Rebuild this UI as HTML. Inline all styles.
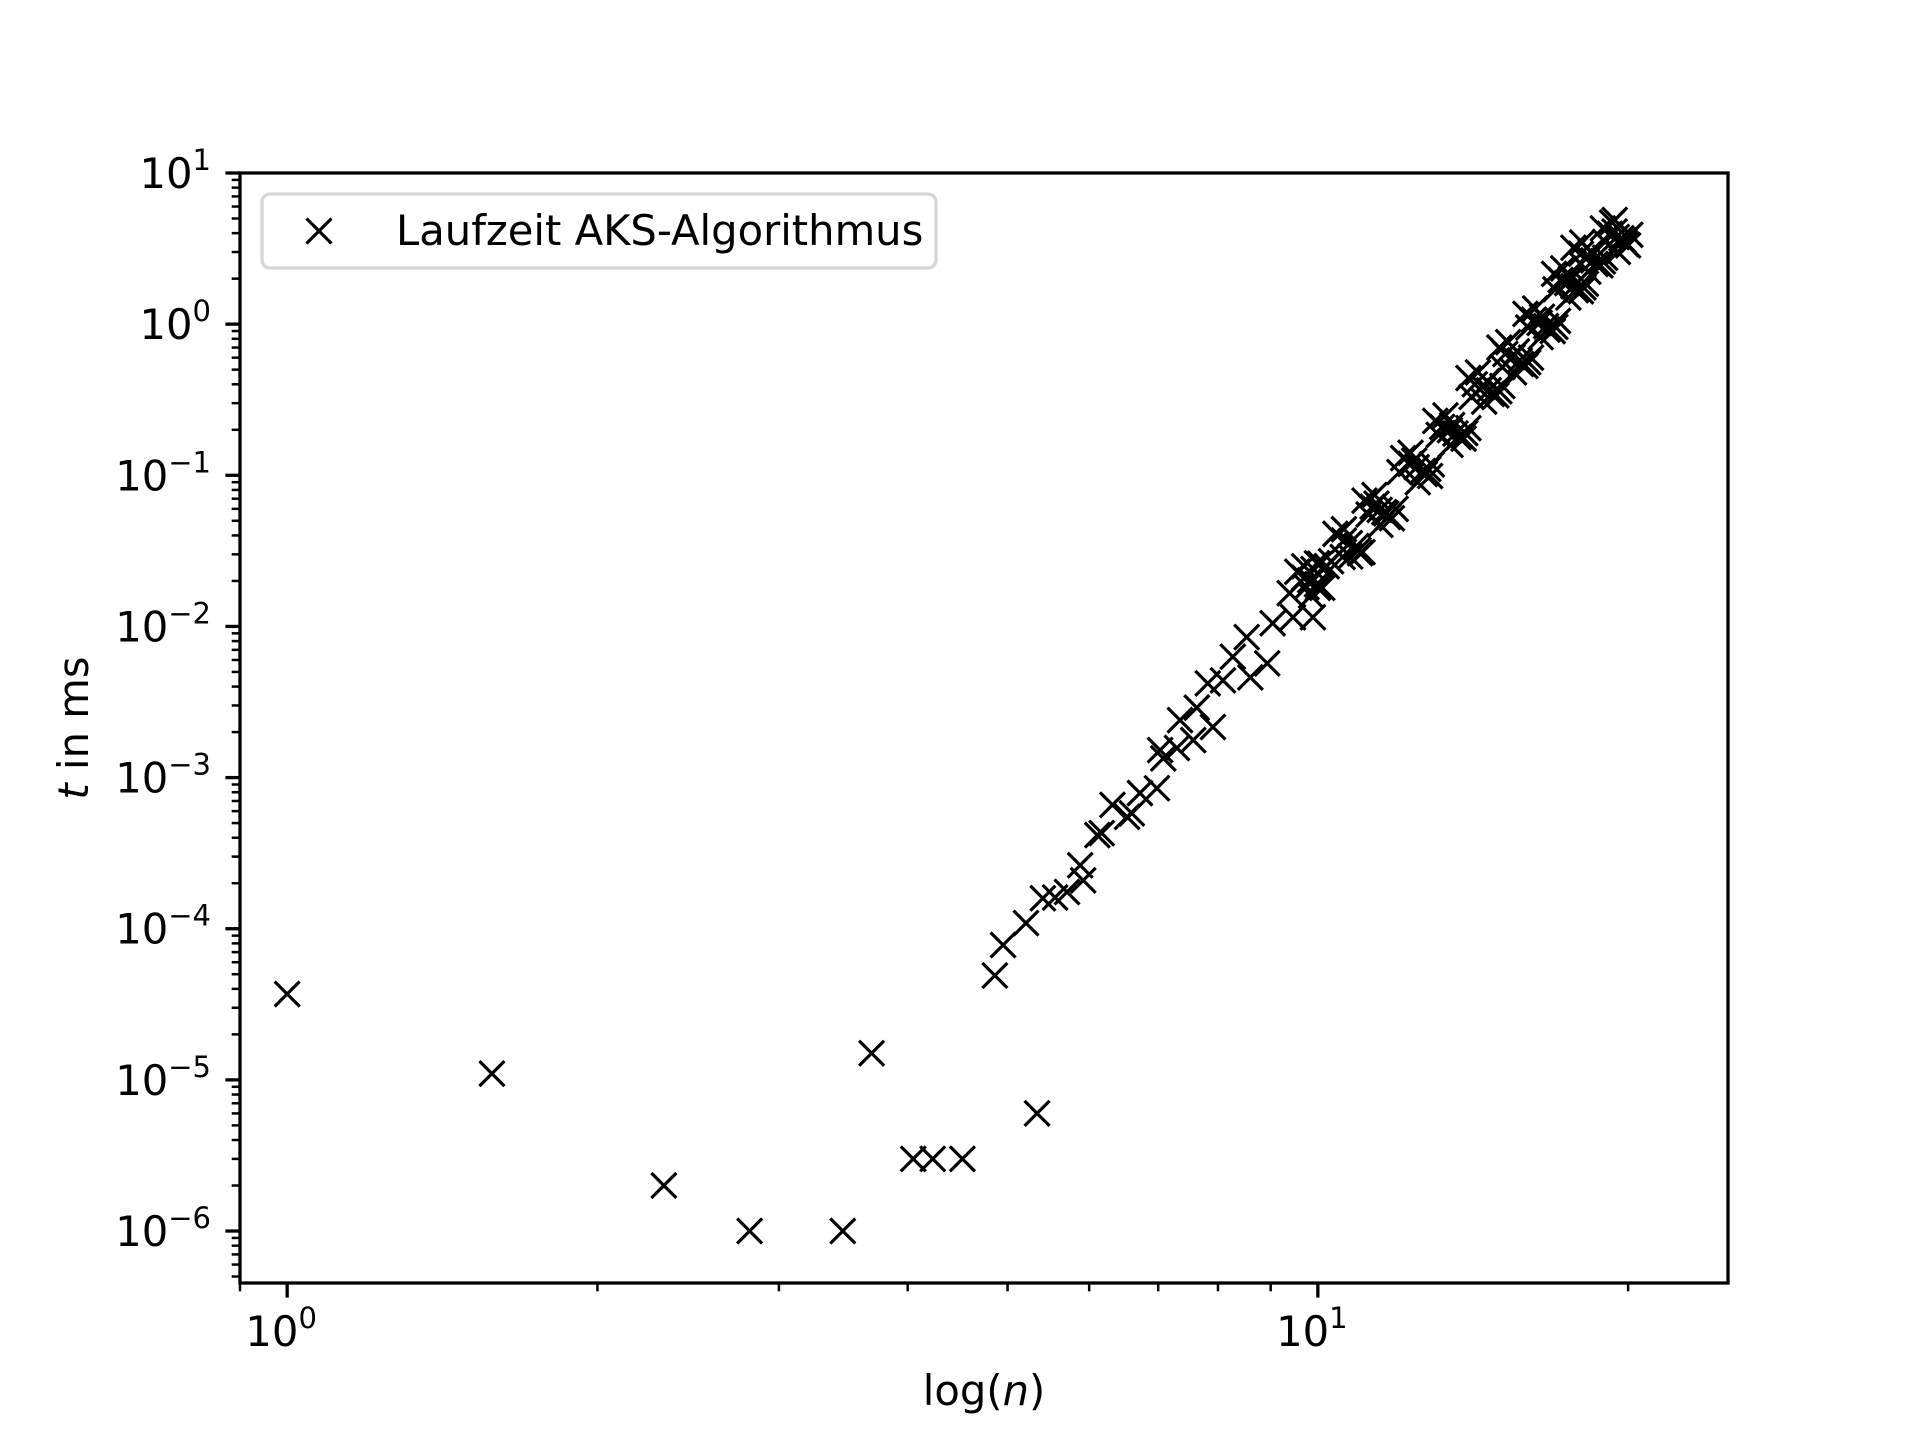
<!DOCTYPE html>
<html><head><meta charset="utf-8"><style>
html,body{margin:0;padding:0;background:#fff;}
svg{display:block;font-family:"DejaVu Sans","Liberation Sans",sans-serif;}
</style></head><body>
<svg id="chart" width="1920" height="1440" viewBox="0 0 1920 1440">
<rect x="0" y="0" width="1920" height="1440" fill="#fff"/>
<g id="marks"></g>
<g id="axes"></g>
</svg>
<script>
const smallN = [1.0, 1.58, 2.32, 2.81, 3.46, 3.69, 4.05, 4.23, 4.52, 5.34];
const smallT = [3.7e-5, 1.1e-5, 2e-6, 1e-6, 1e-6, 1.5e-5, 3e-6, 3e-6, 3e-6, 6e-6];
const midN = [4.86,4.95,5.21,5.41,5.56,5.71,5.88,5.92,6.11,6.17,6.32,6.53,6.60,6.72,6.98,7.03,7.08,7.30,7.57,7.35,7.63,7.91,7.82,8.09,8.27,8.60,8.93,8.53,9.04,9.46,9.89,9.39,9.75,9.98,10.57,10.99];
const midT = [4.9e-5,7.8e-5,1.09e-4,1.59e-4,1.61e-4,1.75e-4,2.63e-4,2.09e-4,4.16e-4,4.29e-4,6.6e-4,5.5e-4,5.8e-4,7.9e-4,8.5e-4,1.52e-3,1.34e-3,1.57e-3,1.77e-3,2.4e-3,2.9e-3,2.16e-3,4.2e-3,4.4e-3,6.3e-3,4.6e-3,5.7e-3,8.5e-3,1.05e-2,1.15e-2,1.15e-2,1.66e-2,1.82e-2,2.62e-2,2.88e-2,3.05e-2];
const bigN = [9.55,9.7,9.83,9.98,10.1,9.85,9.7,10.0,
 10.4,10.6,10.74,10.9,11.05,10.75,10.6,10.95,
 11.1,11.3,11.48,11.65,11.8,11.5,11.35,11.7,
 12.1,12.3,12.47,12.65,12.85,12.5,12.3,12.7,
 13.0,13.2,13.43,13.6,13.85,13.45,13.3,13.7,
 14.0,14.2,14.45,14.65,14.9,14.5,14.3,14.75,
 15.0,15.2,15.45,15.7,15.9,15.5,15.3,15.75,
 15.9,16.2,16.41,16.65,16.9,16.45,16.25,16.7,
 16.95,17.2,17.45,17.7,18.0,17.5,17.3,17.8,
 17.7,18.0,18.24,18.5,18.8,18.3,18.05,18.6,
 18.9,19.2,19.5,19.8,20.0,19.55,19.3,19.9,19.41];
const bigT = [2.3e-2,2.1e-2,2.02e-2,1.9e-2,1.8e-2,1.6e-2,2.5e-2,1.8e-2,
 4.1e-2,3.7e-2,3.56e-2,3.4e-2,3.1e-2,2.9e-2,4.4e-2,3.2e-2,
 6.8e-2,6.2e-2,5.9e-2,5.6e-2,5.2e-2,4.7e-2,7.4e-2,5.3e-2,
 0.13,0.119,0.113,0.107,0.099,0.09,0.141,0.102,
 0.229,0.209,0.199,0.189,0.175,0.159,0.249,0.179,
 0.44,0.40,0.384,0.365,0.338,0.307,0.48,0.345,
 0.70,0.635,0.605,0.575,0.53,0.48,0.76,0.545,
 1.17,1.07,1.02,0.97,0.9,0.82,1.27,0.92,
 2.15,1.96,1.87,1.78,1.65,1.5,2.34,1.68,
 3.2,2.92,2.78,2.64,2.45,2.22,3.47,2.5,
 4.3,3.96,3.77,3.58,3.32,3.0,4.7,3.4,4.89];
const extraN = [9.9,10.05,10.2,10.3,
 11.2,11.4,11.6,11.9,
 12.0,12.4,12.8,12.9,
 13.1,13.5,13.9,14.0,
 14.1,14.6,15.0,15.1,
 15.1,15.6,16.0,16.1,
 16.0,16.5,17.0,17.1,
 17.0,17.6,18.1,18.2,
 18.0,18.4,18.9,19.0,
 19.0,19.4,19.7,20.1];
const extraT = [2.4e-2,2.6e-2,2.5e-2,2.7e-2,
 5.5e-2,6.5e-2,5.7e-2,6.0e-2,
 0.105,0.125,0.11,0.118,
 0.185,0.215,0.19,0.205,
 0.33,0.42,0.36,0.39,
 0.52,0.66,0.56,0.60,
 0.95,1.12,0.96,1.05,
 1.7,2.0,1.75,1.85,
 2.5,3.0,2.6,2.75,
 3.5,4.1,3.7,3.9];
const yTickExp = [1,0,-1,-2,-3,-4,-5,-6];
const xTickExp = [0,1];

const NS="http://www.w3.org/2000/svg";
const L=240,R=1728,T=173,B=1283;
const xLo=0.9, xHi=25.0, yLo=4.53e-7, yHi=10;
function sx(v){return L+(Math.log10(v)-Math.log10(xLo))/(Math.log10(xHi)-Math.log10(xLo))*(R-L);}
function sy(v){return B-(Math.log10(v)-Math.log10(yLo))/(Math.log10(yHi)-Math.log10(yLo))*(B-T);}
function el(tag,attrs,parent){const e=document.createElementNS(NS,tag);for(const k in attrs)e.setAttribute(k,attrs[k]);if(parent)parent.appendChild(e);return e;}
const marks=document.getElementById('marks');
const axes=document.getElementById('axes');
function cross(cx,cy,parent){
  return el('path',{d:`M${cx-12.5},${cy-12.5}L${cx+12.5},${cy+12.5}M${cx-12.5},${cy+12.5}L${cx+12.5},${cy-12.5}`,stroke:'#000','stroke-width':3.2,fill:'none'},parent);
}
const allN=smallN.concat(midN,bigN,extraN), allT=smallT.concat(midT,bigT,extraT);
for(let i=0;i<allN.length;i++){
  const p=cross(sx(allN[i]),sy(allT[i]),marks);
  
  
}
const fr=el('rect',{x:L,y:T,width:R-L,height:B-T,fill:'none',stroke:'#000','stroke-width':3.3},axes);


for(let e=-7;e<=1;e++){
  for(let m=1;m<10;m++){
    const v=m*Math.pow(10,e); if(v<yLo||v>yHi*1.0001)continue;
    const y=sy(v), len=m===1?14.6:8.3;
    const t=el('line',{x1:L,x2:L-len,y1:y,y2:y,stroke:'#000','stroke-width':m===1?3.3:2.5},axes);
    
    
  }
}
yTickExp.forEach(e=>{
  const y=sy(Math.pow(10,e));
  const tx=el('text',{x:L-29,y:y+15,'text-anchor':'end','font-size':41.7,fill:'#000'},axes);
  
  
  const a=el('tspan',{},tx); a.textContent='10';
  const b=el('tspan',{dy:-18,'font-size':29},tx); b.textContent=(e<0?'\u2212':'')+Math.abs(e);
});
for(let e=-1;e<=1;e++){
  for(let m=1;m<10;m++){
    const v=m*Math.pow(10,e); if(v<xLo-1e-9||v>xHi)continue;
    const x=sx(v), len=m===1?14.6:8.3;
    const t=el('line',{x1:x,x2:x,y1:B,y2:B+len,stroke:'#000','stroke-width':m===1?3.3:2.5},axes);
    
    
  }
}
xTickExp.forEach(e=>{
  const x=sx(Math.pow(10,e));
  const tx=el('text',{x:x-6,y:B+63,'text-anchor':'middle','font-size':41.7,fill:'#000'},axes);
  
  
  const a=el('tspan',{},tx); a.textContent='10';
  const b=el('tspan',{dy:-18,'font-size':29},tx); b.textContent=String(e);
});
</script>
<svg style="position:absolute;left:0;top:0" width="1920" height="1440">
<text x="984" y="1405" text-anchor="middle" font-size="41.7" font-family="DejaVu Sans, sans-serif">log(<tspan font-style="italic">n</tspan>)</text>
<text transform="translate(88,728) rotate(-90)" text-anchor="middle" font-size="41.7" font-family="DejaVu Sans, sans-serif"><tspan font-style="italic">t</tspan> in ms</text>
<g>
<rect x="262" y="194" width="674" height="74" rx="8" fill="#fff" fill-opacity="0.8" stroke="#d6d6d6" stroke-width="3.3"/>
<path d="M306.5,218.5L331.5,243.5M306.5,243.5L331.5,218.5" stroke="#000" stroke-width="3.2"/>
<text x="396" y="245" font-size="41.7" font-family="DejaVu Sans, sans-serif">Laufzeit AKS-Algorithmus</text>
</g>
</svg>
</body></html>
